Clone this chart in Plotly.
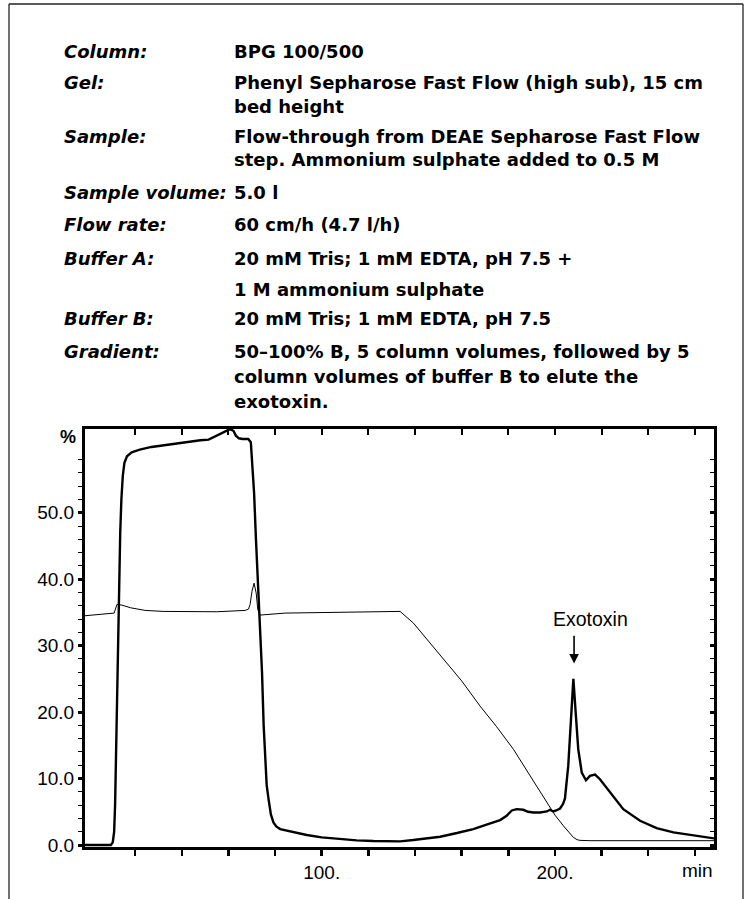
import plotly.graph_objects as go

# ---------------- data ----------------
uv_time = [-1.5, 9.6, 10.4, 11.0, 11.4, 11.9, 12.4, 13.0, 13.6, 14.1,
           14.7, 15.4, 16.5, 18.5, 22.0, 27.0, 35.0, 41.5, 48.0, 51.5,
           54.0, 56.0, 58.0, 60.2, 61.3, 62.2, 63.2, 64.5, 66.0, 68.5,
           69.6, 70.4, 71.0, 71.8, 72.6, 73.6, 74.4, 75.1, 75.7, 76.4,
           77.2, 78.2, 79.3, 80.5, 82.2, 88.0, 93.6, 100.0, 107.9, 115.0,
           122.2, 128.0, 133.6, 139.3, 145.0, 150.8, 158.0, 165.0, 171.0, 176.5,
           179.3, 181.5, 183.6, 186.4, 188.5, 190.7, 193.6, 196.5, 197.9, 199.3,
           200.5, 202.2, 203.5, 204.3, 205.7, 206.8, 207.9, 209.0, 210.0, 211.5,
           213.3, 215.0, 217.2, 219.3, 223.6, 229.3, 236.5, 243.6, 250.8, 257.9,
           265.1, 268.2]
uv_abs = [0.0, 0.0, 0.4, 2.0, 6.0, 16.0, 27.0, 38.0, 47.0, 52.0,
          55.5, 57.5, 58.5, 59.1, 59.5, 59.9, 60.3, 60.6, 60.9, 61.0,
          61.4, 61.8, 62.1, 62.5, 62.5, 62.3, 61.6, 61.2, 61.1, 61.1,
          60.6, 57.0, 53.0, 46.0, 40.0, 33.0, 26.0, 18.0, 12.9, 9.0,
          6.9, 4.6, 3.4, 2.8, 2.4, 1.9, 1.5, 1.15, 0.9, 0.7,
          0.6, 0.55, 0.55, 0.75, 1.0, 1.25, 1.8, 2.4, 3.1, 3.75,
          4.4, 5.2, 5.4, 5.3, 5.0, 4.9, 4.9, 5.05, 5.3, 5.05,
          5.2, 5.5, 6.2, 7.0, 11.9, 19.4, 25.0, 19.4, 14.4, 10.9,
          9.75, 10.4, 10.6, 9.9, 7.9, 5.4, 3.65, 2.55, 1.9, 1.55,
          1.15, 1.0]

grad_time = [-1.5, 10.0, 11.0, 12.2, 14.3, 18.0, 24.3, 32.0, 41.4, 55.0,
             67.2, 68.6, 69.3, 70.1, 71.0, 71.9, 72.6, 73.6, 84.3, 100.0,
             112.9, 125.0, 133.6, 139.3, 146.0, 153.6, 160.0, 167.9, 175.0, 182.2,
             189.3, 196.5, 200.0, 203.6, 206.5, 207.9, 209.5, 210.7, 215.0, 268.2]
grad_val = [34.5, 34.8, 34.9, 36.2, 36.1, 35.7, 35.3, 35.15, 35.1, 35.1,
            35.3, 35.5, 36.2, 38.2, 39.4, 37.9, 35.4, 34.6, 34.9, 35.0,
            35.1, 35.15, 35.15, 33.4, 30.6, 27.4, 24.7, 20.9, 17.8, 14.4,
            10.4, 6.4, 4.5, 2.9, 1.6, 1.15, 0.8, 0.7, 0.65, 0.65]

x_tick_vals = [20, 40, 60, 80, 100, 120, 140, 160, 180, 200, 220, 240, 260]
x_tick_text = ["", "", "", "", "100.", "", "", "", "", "200.", "", "", ""]
y_major_vals = [0, 10, 20, 30, 40, 50]
y_major_text = ["0.0", "10.0", "20.0", "30.0", "40.0", "50.0"]
y_minor_vals = list(range(2, 60, 2))

info_labels = ["Column:", "Gel:", "Sample:", "Sample volume:", "Flow rate:",
               "Buffer A:", "Buffer B:", "Gradient:"]
info_values = [
    ["BPG 100/500"],
    ["Phenyl Sepharose Fast Flow (high sub), 15 cm", "bed height"],
    ["Flow-through from DEAE Sepharose Fast Flow", "step. Ammonium sulphate added to 0.5 M"],
    ["5.0 l"],
    ["60 cm/h (4.7 l/h)"],
    ["20 mM Tris; 1 mM EDTA, pH 7.5 +", "1 M ammonium sulphate"],
    ["20 mM Tris; 1 mM EDTA, pH 7.5"],
    ["50\u2013100% B, 5 column volumes, followed by 5",
     "column volumes of buffer B to elute the", "exotoxin."],
]

X_RANGE = [-1.5, 268.2]
Y_RANGE = [-0.3, 62.6]

# ---------------- layout geometry (pixels) ----------------
W, H = 750, 899
L, R, T, B = 85, 36, 429, 52
PW, PH = W - L - R, H - T - B


def px(x):
    return (x - L) / PW


def py(y):
    return (H - B - y) / PH


FONT = "Liberation Sans, Arial, Helvetica, sans-serif"
BLOCK_FONT = "DejaVu Sans, Verdana, sans-serif"
BLOCK_SIZE = 18

fig = go.Figure()
fig.add_trace(go.Scatter(x=grad_time, y=grad_val, mode="lines",
                         line=dict(color="black", width=1), hoverinfo="skip"))
fig.add_trace(go.Scatter(x=uv_time, y=uv_abs, mode="lines",
                         line=dict(color="black", width=2.4), hoverinfo="skip"))

annotations = []
# info block (line centres in pixels)
line_y = [52, 82, 136, 192, 224, 258, 318, 351]
wrap_step = [0, 24, 24, 0, 0, 31, 0, 25]
for lab, vals, y0, st in zip(info_labels, info_values, line_y, wrap_step):
    annotations.append(dict(x=px(62), y=py(y0), xref="paper", yref="paper",
                            text="<b><i>" + lab + "</i></b>", showarrow=False,
                            xanchor="left", yanchor="middle",
                            font=dict(family=BLOCK_FONT, size=BLOCK_SIZE, color="black")))
    for k, v in enumerate(vals):
        annotations.append(dict(x=px(232), y=py(y0 + k * st), xref="paper", yref="paper",
                                text="<b>" + v + "</b>", showarrow=False,
                                xanchor="left", yanchor="middle",
                                font=dict(family=BLOCK_FONT, size=BLOCK_SIZE, color="black")))

# axis unit labels
annotations.append(dict(x=px(68), y=py(437), xref="paper", yref="paper", text="<b>%</b>",
                        showarrow=False, xanchor="center", yanchor="middle",
                        font=dict(family=FONT, size=18, color="black")))
annotations.append(dict(x=px(715), y=py(870), xref="paper", yref="paper", text="min",
                        showarrow=False, xanchor="right", yanchor="middle",
                        font=dict(family=FONT, size=19, color="black")))
# exotoxin marker
annotations.append(dict(x=215.3, y=34.0, xref="x", yref="y", text="Exotoxin",
                        showarrow=False, xanchor="center", yanchor="middle",
                        font=dict(family=FONT, size=19.5, color="black")))
annotations.append(dict(x=208.2, y=27.3, ax=208.2, ay=31.7, xref="x", yref="y",
                        axref="x", ayref="y", text="", showarrow=True,
                        arrowhead=2, arrowsize=1.2, arrowwidth=1.6, arrowcolor="black"))

BORDER = dict(color="#222222", width=1.3)
shapes = [
    dict(type="line", xref="paper", yref="paper", x0=px(9), x1=px(743), y0=py(4), y1=py(4),
         line=BORDER, layer="above"),
    dict(type="line", xref="paper", yref="paper", x0=px(9), x1=px(9), y0=py(4), y1=py(905),
         line=BORDER, layer="above"),
    dict(type="line", xref="paper", yref="paper", x0=px(743), x1=px(743), y0=py(4), y1=py(905),
         line=BORDER, layer="above"),
]

TICKFONT = dict(family=FONT, size=19, color="black")

fig.update_layout(
    width=W, height=H,
    margin=dict(l=L, r=R, t=T, b=B, pad=0),
    paper_bgcolor="white", plot_bgcolor="white",
    showlegend=False,
    font=dict(family=FONT, size=19, color="black"),
    annotations=annotations,
    shapes=shapes,
    xaxis=dict(range=X_RANGE, showgrid=False, zeroline=False,
               showline=True, linecolor="black", linewidth=3,
               tickmode="array", tickvals=x_tick_vals, ticktext=x_tick_text,
               ticks="outside", ticklen=6, tickwidth=2.5, tickcolor="black",
               tickfont=TICKFONT),
    xaxis2=dict(range=X_RANGE, overlaying="x", side="top", showgrid=False, zeroline=False,
                showline=True, linecolor="black", linewidth=3,
                tickmode="array", tickvals=x_tick_vals, showticklabels=False,
                ticks="inside", ticklen=6, tickwidth=2, tickcolor="black"),
    yaxis=dict(range=Y_RANGE, showgrid=False, zeroline=False,
               showline=True, linecolor="black", linewidth=3,
               tickmode="array", tickvals=y_major_vals, ticktext=y_major_text,
               ticks="outside", ticklen=4, tickwidth=3, tickcolor="black",
               tickfont=TICKFONT,
               minor=dict(tickmode="array", tickvals=y_minor_vals, ticks="outside",
                          ticklen=4, tickwidth=1, tickcolor="black")),
    yaxis2=dict(range=Y_RANGE, overlaying="y", side="right", showgrid=False, zeroline=False,
                showline=True, linecolor="black", linewidth=3,
                tickmode="array", tickvals=y_major_vals, showticklabels=False,
                ticks="inside", ticklen=4, tickwidth=3, tickcolor="black",
                minor=dict(tickmode="array", tickvals=y_minor_vals, ticks="inside",
                           ticklen=4, tickwidth=1, tickcolor="black")),
)
# invisible trace that activates the mirrored (top/right) axes
fig.add_trace(go.Scatter(x=[X_RANGE[0]], y=[Y_RANGE[0]], xaxis="x2", yaxis="y2",
                         mode="markers", marker=dict(opacity=0), hoverinfo="skip"))

fig.write_html("out.html",
               config={"displayModeBar": False, "staticPlot": True},
               post_script="document.body.style.margin='0';document.body.style.overflow='hidden';")
